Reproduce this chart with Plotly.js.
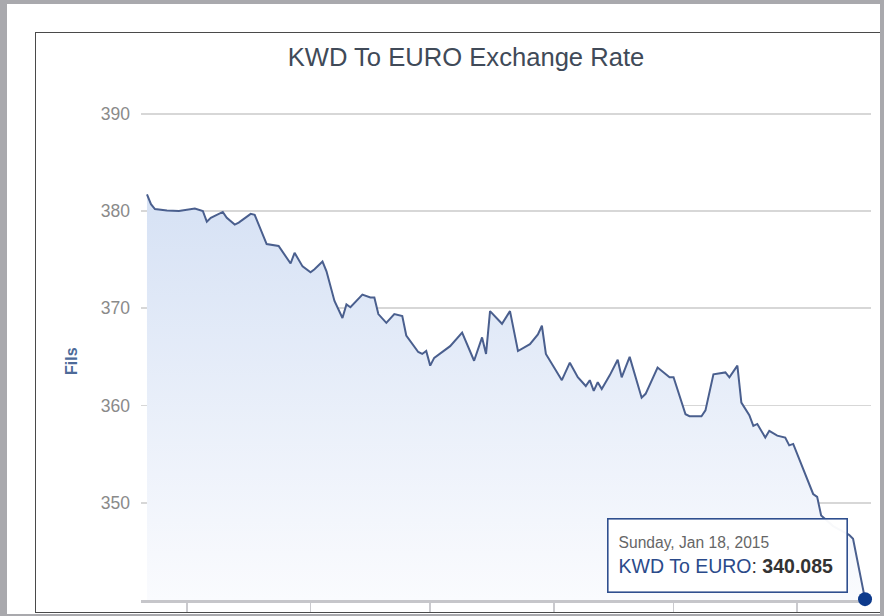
<!DOCTYPE html>
<html>
<head>
<meta charset="utf-8">
<script src="https://cdn.plot.ly/plotly-3.0.1.min.js"></script>
<style>
  html, body { margin: 0; padding: 0; width: 884px; height: 616px; overflow: hidden; background: #a9a9ad; }
  #panel { position: absolute; left: 7px; top: 4px; width: 873px; height: 610px; background: #ffffff; overflow: hidden; }
  #frame { position: absolute; left: 28px; top: 28px; width: 900px; height: 579px; border: 1px solid #4a4a4a; overflow: hidden; background: #fff; }
  #chart { position: absolute; left: 0; top: 0; width: 860px; height: 620px; }
</style>
</head>
<body>
<div id="panel"><div id="frame"><div id="chart"></div></div></div>
<script>
// ---- data ----
const dates = ['2014-07-22','2014-07-23','2014-07-24','2014-07-27','2014-07-30','2014-08-03','2014-08-05','2014-08-06','2014-08-07','2014-08-10',
  '2014-08-11','2014-08-13','2014-08-14','2014-08-17','2014-08-18','2014-08-19','2014-08-21','2014-08-24','2014-08-26','2014-08-27',
  '2014-08-28','2014-08-30','2014-09-01','2014-09-02','2014-09-04','2014-09-05','2014-09-07','2014-09-09','2014-09-10','2014-09-11',
  '2014-09-14','2014-09-16','2014-09-17','2014-09-18','2014-09-20','2014-09-22','2014-09-24','2014-09-25','2014-09-28','2014-09-29',
  '2014-09-30','2014-10-01','2014-10-02','2014-10-06','2014-10-09','2014-10-12','2014-10-14','2014-10-15','2014-10-16','2014-10-19',
  '2014-10-21','2014-10-23','2014-10-26','2014-10-28','2014-10-29','2014-10-30','2014-11-03','2014-11-05','2014-11-07','2014-11-09',
  '2014-11-10','2014-11-11','2014-11-12','2014-11-13','2014-11-15','2014-11-17','2014-11-18','2014-11-20','2014-11-23','2014-11-24',
  '2014-11-27','2014-11-30','2014-12-01','2014-12-04','2014-12-05','2014-12-08','2014-12-09','2014-12-11','2014-12-14','2014-12-15',
  '2014-12-17','2014-12-18','2014-12-20','2014-12-21','2014-12-22','2014-12-24','2014-12-25','2014-12-27','2014-12-29','2014-12-30',
  '2014-12-31','2015-01-02','2015-01-05','2015-01-06','2015-01-07','2015-01-10','2015-01-14','2015-01-15','2015-01-18'];

const rates = [381.7,380.7,380.2,380.05,380.0,380.26,380.0,378.9,379.3,379.9,
  379.3,378.6,378.8,379.7,379.6,378.6,376.6,376.4,375.2,374.6,
  375.7,374.3,373.7,374.0,374.8,373.8,370.75,369.0,370.4,370.1,
  371.4,371.1,371.1,369.4,368.5,369.4,369.2,367.2,365.5,365.3,
  365.6,364.1,364.9,366.1,367.5,364.6,367.0,365.3,369.7,368.4,
  369.7,365.6,366.3,367.3,368.2,365.3,362.6,364.4,362.9,362.0,
  362.6,361.5,362.4,361.7,363.1,364.7,362.9,365.0,360.8,361.2,
  363.9,362.9,362.9,359.1,358.9,358.9,359.5,363.2,363.4,362.9,
  364.1,360.3,359.0,357.9,358.1,356.7,357.4,356.9,356.7,355.9,
  356.05,354.0,350.9,350.6,348.7,347.6,346.7,346.3,340.085];

const yTicks = [350, 360, 370, 380, 390];
const xTickVals = ['2014-08-01','2014-09-01','2014-10-01','2014-11-01','2014-12-01','2015-01-01'];
const seriesName = 'KWD To EURO';
const tooltipDate = 'Sunday, Jan 18, 2015';
const chartTitle = 'KWD To EURO Exchange Rate';
const yTitle = 'Fils';

const lastX = dates[dates.length - 1];
const lastY = rates[rates.length - 1];

const area = {
  x: dates, y: rates, type: 'scatter', mode: 'lines',
  line: { color: '#4a5f8e', width: 2 },
  fill: 'tozeroy',
  fillgradient: { type: 'vertical', start: 340, stop: 384,
    colorscale: [[0, 'rgb(250,251,254)'], [1, 'rgb(212,224,244)']] },
  hoverinfo: 'skip', showlegend: false
};
const marker = {
  x: [lastX], y: [lastY], type: 'scatter', mode: 'markers',
  marker: { color: '#0d3a8c', size: 14, opacity: 1, line: { width: 0 } },
  hoverinfo: 'skip', showlegend: false, cliponaxis: false
};

const layout = {
  width: 860, height: 620,
  margin: { l: 105, r: 25, t: 71, b: 53 },
  paper_bgcolor: '#ffffff', plot_bgcolor: '#ffffff',
  font: { family: '"Liberation Sans", Arial, sans-serif' },
  title: { text: chartTitle, x: 0.5, xref: 'container', xanchor: 'center',
    y: 0.9613, yref: 'container', yanchor: 'middle',
    font: { size: 25.6, color: '#404a58' } },
  xaxis: {
    type: 'date', range: ['2014-07-20 12:00', '2015-01-19 12:00'],
    tickvals: xTickVals, showticklabels: false,
    showgrid: false, zeroline: false, layer: 'below traces',
    showline: true, linecolor: '#c6c6ca', linewidth: 2.5,
    ticks: 'outside', ticklen: 12, tickwidth: 1.5, tickcolor: '#cacace'
  },
  yaxis: {
    range: [340, 391], tickvals: yTicks, ticktext: yTicks.map(String),
    showgrid: true, gridcolor: '#d7d7d7', gridwidth: 1.6,
    zeroline: false, showline: false, ticks: '',
    ticklabelstandoff: 10,
    tickfont: { size: 17.5, color: '#8a8a8a' }
  },
  annotations: [
    { text: yTitle, textangle: -90, xref: 'paper', yref: 'paper',
      x: -0.0945, y: 0.482, xanchor: 'center', yanchor: 'middle', showarrow: false,
      font: { size: 16, color: '#4d6a98', family: '"Liberation Sans", Arial, sans-serif', weight: 'bold' } },
    { xref: 'paper', yref: 'paper', x: 0.804, y: 0.0898, xanchor: 'center', yanchor: 'middle',
      showarrow: false, align: 'left', valign: 'middle',
      width: 218, height: 52, borderpad: 10,
      bgcolor: 'rgba(255,255,255,0.96)', bordercolor: '#2f4f8f', borderwidth: 1.6,
      font: { size: 19.5, color: '#333333' },
      text: '<span style="font-size:15.6px;color:#666666">' + tooltipDate + '</span><br>' +
            '<span style="color:#2a4a8a">' + seriesName + '</span>: <b>' + lastY.toFixed(3) + '</b>' }
  ]
};

Plotly.newPlot('chart', [area, marker], layout, { displayModeBar: false, staticPlot: true });
</script>
</body>
</html>
